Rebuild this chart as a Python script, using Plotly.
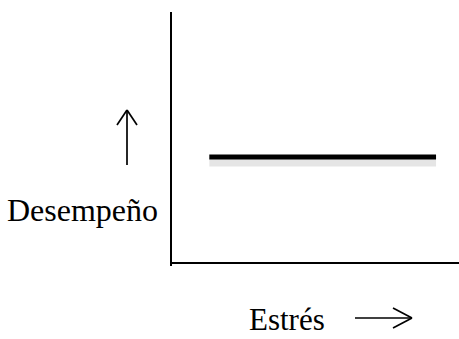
import plotly.graph_objects as go

# Data (schematic: performance constant as stress increases)
estres = [1.3, 9.2]
desempeno = [4.2, 4.2]
x_title = "Estrés"
y_title = "Desempeño"

W_FIG, H_FIG = 459, 339
L, T, R, B = 172, 12, 0, 77
PW, PH = W_FIG - L - R, H_FIG - T - B

def px(x):
    return (x - L) / PW

def py(y):
    return (T + PH - y) / PH

fig = go.Figure()
# soft shadow under the line
fig.add_trace(go.Scatter(
    x=estres, y=[v - 0.2 for v in desempeno], mode="lines",
    line=dict(color="rgba(0,0,0,0.10)", width=9),
    hoverinfo="skip", showlegend=False))
fig.add_trace(go.Scatter(
    x=estres, y=desempeno, mode="lines",
    line=dict(color="black", width=5),
    showlegend=False))

axis_common = dict(showgrid=False, zeroline=False, showticklabels=False,
                   ticks="", showline=True, linecolor="black", linewidth=2,
                   range=[0, 10], fixedrange=True)
fig.update_xaxes(**axis_common)
fig.update_yaxes(**axis_common)

font_y = dict(family="Liberation Serif, Times New Roman, serif", size=32, color="black")
font_x = dict(family="Liberation Serif, Times New Roman, serif", size=31, color="black")
fig.add_annotation(text=y_title, xref="paper", yref="paper", x=px(160), y=py(210),
                   xanchor="right", yanchor="middle", showarrow=False, font=font_y)
fig.add_annotation(text=x_title, xref="paper", yref="paper", x=px(247), y=py(319),
                   xanchor="left", yanchor="middle", showarrow=False, font=font_x)

lw = dict(color="black", width=1.7)
segs = [
    # up arrow
    (127, 165, 127, 110), (117, 125, 127, 110), (137, 125, 127, 110),
    # right arrow
    (355, 318, 412, 318), (393, 308, 412, 318), (393, 328, 412, 318),
]
for x0, y0, x1, y1 in segs:
    fig.add_shape(type="line", xref="paper", yref="paper",
                  x0=px(x0), y0=py(y0), x1=px(x1), y1=py(y1), line=lw)
# small overhang of vertical axis below the horizontal axis
fig.add_shape(type="line", xref="paper", yref="paper",
              x0=px(171), y0=py(262), x1=px(171), y1=py(266),
              line=dict(color="black", width=2))

fig.update_layout(width=W_FIG, height=H_FIG,
                  margin=dict(l=L, r=R, t=T, b=B, pad=0),
                  paper_bgcolor="white", plot_bgcolor="white")
fig.write_html("out.html", config={"displayModeBar": False},
               post_script="document.body.style.margin='0';document.body.style.overflow='hidden';")
